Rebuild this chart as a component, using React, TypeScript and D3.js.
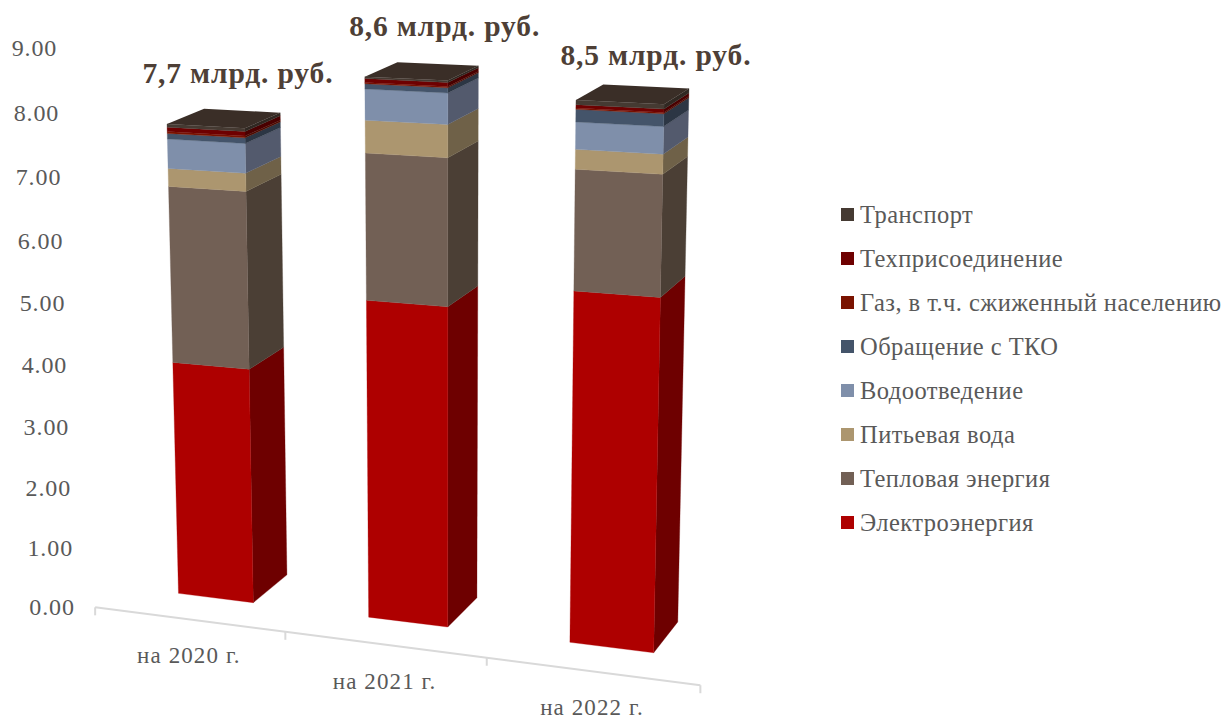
import React from "react";
import * as d3 from "d3";

const categories = ["на 2020 г.", "на 2021 г.", "на 2022 г."];
const totalLabels = ["7,7 млрд. руб.", "8,6 млрд. руб.", "8,5 млрд. руб."];
const seriesNames = ["Электроэнергия", "Тепловая энергия", "Питьевая вода", "Водоотведение", "Обращение с ТКО", "Газ, в т.ч. сжиженный населению", "Техприсоединение", "Транспорт"];
const electricity = [3.92, 5.2, 5.6];
const heat = [2.88, 2.32, 1.86];
const water = [0.29, 0.51, 0.3];
const sewage = [0.47, 0.48, 0.41];
const waste = [0.09, 0.08, 0.19];
const gas = [0.03, 0.02, 0.02];
const grid = [0.07, 0.06, 0.05];
const transport = [0.05, 0.03, 0.07];
const seriesValues = [electricity, heat, water, sewage, waste, gas, grid, transport];
const frontColors = ["#AE0000", "#726055", "#AC966F", "#7F8FAA", "#44546A", "#7A1300", "#6E0000", "#453A32"];
const sideColors = ["#6E0000", "#4B3F35", "#6F6148", "#535A6D", "#2C3644", "#4E0C00", "#4A0000", "#302822"];
const valueTicks = d3.range(0, 10);

// Perspective camera fitted to reference marks: [X, value, Z, screenX, screenY]
const cameraAnchors = [
  [0.3, 0, 0, 178, 594], [0.7, 0, 0, 253, 603], [0.7, 0, 1, 286, 577],
  [0.3, 7.8, 0, 167, 122], [0.7, 7.8, 0, 246, 129], [0.7, 7.8, 1, 279, 114], [0.3, 7.8, 1, 203, 109],
  [1.3, 0, 0, 369, 618], [1.7, 0, 0, 447, 628], [1.7, 0, 1, 477, 595],
  [1.3, 8.7, 0, 366, 75], [1.7, 8.7, 0, 449, 82], [1.7, 8.7, 1, 478, 67], [1.3, 8.7, 1, 397, 62],
  [2.3, 0, 0, 569, 644], [2.7, 0, 0, 653, 655], [2.7, 0, 1, 683, 617],
  [2.3, 8.5, 0, 577, 98], [2.7, 8.5, 0, 665, 103], [2.7, 8.5, 1, 688, 90], [2.3, 8.5, 1, 602, 85],
  [0, 0, -0.74, 96, 605], [1, 0, -0.74, 287, 632], [2, 0, -0.74, 486, 658], [3, 0, -0.74, 697, 686],
];

function solve(A: number[][], b: number[]) {
  const n = b.length;
  const M = A.map((r, i) => [...r, b[i]]);
  for (let c = 0; c < n; c++) {
    let p = c;
    for (let r = c + 1; r < n; r++) if (Math.abs(M[r][c]) > Math.abs(M[p][c])) p = r;
    [M[c], M[p]] = [M[p], M[c]];
    for (let r = 0; r < n; r++) {
      if (r === c) continue;
      const f = M[r][c] / M[c][c];
      for (let k = c; k <= n; k++) M[r][k] -= f * M[c][k];
    }
  }
  return M.map((r, i) => r[n] / r[i]);
}

function fitCamera(anchors: number[][]) {
  const rows: number[][] = [];
  const rhs: number[] = [];
  const S = 500;
  anchors.forEach(([X, V, Z, sx, sy]) => {
    const v = V / 4;
    const u = sx / S, w = sy / S;
    rows.push([X, v, Z, 1, 0, 0, 0, 0, -u * X, -u * v, -u * Z]); rhs.push(u);
    rows.push([0, 0, 0, 0, X, v, Z, 1, -w * X, -w * v, -w * Z]); rhs.push(w);
  });
  const n = 11;
  const AtA = d3.range(n).map((i) => d3.range(n).map((j) => d3.sum(rows, (r) => r[i] * r[j])));
  const Atb = d3.range(n).map((i) => d3.sum(rows, (r, k) => r[i] * rhs[k]));
  const p = solve(AtA, Atb);
  return (X: number, V: number, Z: number): [number, number] => {
    const v = V / 4;
    const d = p[8] * X + p[9] * v + p[10] * Z + 1;
    return [S * (p[0] * X + p[1] * v + p[2] * Z + p[3]) / d, S * (p[4] * X + p[5] * v + p[6] * Z + p[7]) / d];
  };
}

const project = fitCamera(cameraAnchors);
const bandX = d3.scaleBand<number>().domain([0, 1, 2]).range([0, 3]).paddingInner(0.6).paddingOuter(0.3);
const AXIS_Z = -0.74;
const line = d3.line();
const poly = (pts: [number, number][]) => line(pts)! + "Z";

const textFont = "'Liberation Serif', serif";
const textColor = "#595959";
const titleShiftX = [-4, 7, 10];
const titleShiftY = [-28, -28, -21];

export default function App() {
  const stacked = categories.map((_, i) => {
    let acc = 0;
    return seriesValues.map((s) => { const a = acc; acc += s[i]; return [a, acc]; });
  });
  return (
    <svg width={1223} height={718} style={{ position: "absolute", left: 0, top: 0 }}>
      {valueTicks.map((v) => {
        const [x, y] = project(0, v, AXIS_Z);
        return (
          <text key={v} x={x - 43} y={y + 8 - v * 0.85} textAnchor="middle" fontFamily={textFont} fontSize={24} letterSpacing={0.9} fill={textColor}>
            {v.toFixed(2)}
          </text>
        );
      })}
      <path d={line(d3.range(0, 4).map((k) => project(k, 0, AXIS_Z)))!} stroke="#D9D9D9" strokeWidth={2} fill="none" />
      {d3.range(0, 4).map((k) => {
        const [x, y] = project(k, 0, AXIS_Z);
        return <line key={k} x1={x} y1={y} x2={x} y2={y + 8} stroke="#D9D9D9" strokeWidth={2} />;
      })}
      {categories.map((c, i) => {
        const [x, y] = project(i + 0.5, 0, AXIS_Z);
        return (
          <text key={c} x={x} y={y + 44} textAnchor="middle" fontFamily={textFont} fontSize={23} letterSpacing={1.1} fill={textColor}>
            {c}
          </text>
        );
      })}
      {categories.map((c, i) => {
        const x0 = bandX(i)!;
        const x1 = x0 + bandX.bandwidth();
        const top = stacked[i][stacked[i].length - 1][1];
        return (
          <g key={c}>
            {stacked[i].map(([a, b], s) => (
              <g key={s}>
                <path d={poly([project(x1, a, 0), project(x1, a, 1), project(x1, b, 1), project(x1, b, 0)])} fill={sideColors[s]} stroke={sideColors[s]} strokeWidth={0.3} />
                <path d={poly([project(x0, a, 0), project(x1, a, 0), project(x1, b, 0), project(x0, b, 0)])} fill={frontColors[s]} stroke={frontColors[s]} strokeWidth={0.3} />
              </g>
            ))}
            <path d={poly([project(x0, top, 0), project(x1, top, 0), project(x1, top, 1), project(x0, top, 1)])} fill="#3A2E27" />
          </g>
        );
      })}
      {totalLabels.map((t, i) => {
        const [x, y] = project(i + 0.5, stacked[i][7][1], 1);
        return (
          <text key={t} x={x + titleShiftX[i]} y={y + titleShiftY[i]} textAnchor="middle" fontFamily={textFont} fontWeight="bold" fontSize={29.5} letterSpacing={0.85} fill="#4E3F36">
            {t}
          </text>
        );
      })}
      {[...seriesNames].reverse().map((name, r) => {
        const s = seriesNames.length - 1 - r;
        const cy = 215 + r * 44;
        return (
          <g key={name}>
            <rect x={841} y={cy - 7} width={13} height={13} fill={frontColors[s]} />
            <text x={860} y={cy + 8} fontFamily={textFont} fontSize={24.5} letterSpacing={0.45} fill={textColor}>
              {name}
            </text>
          </g>
        );
      })}
    </svg>
  );
}
